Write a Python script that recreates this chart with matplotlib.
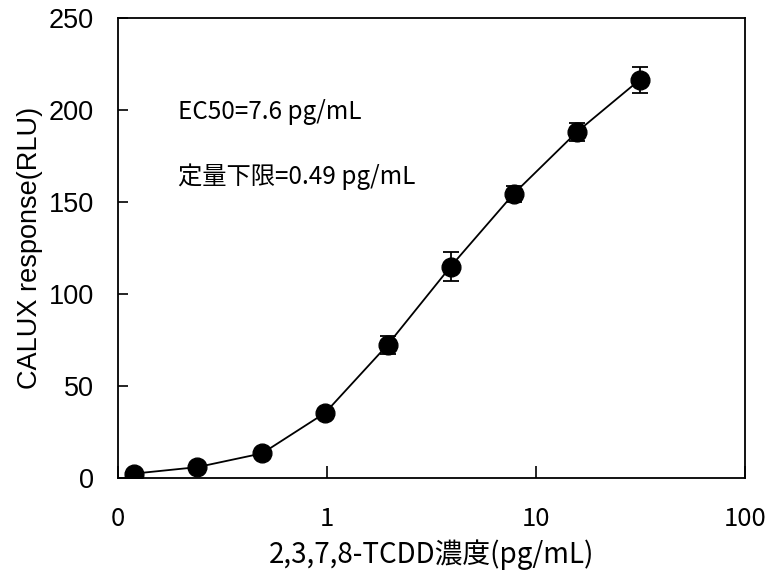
import numpy as np
import matplotlib
matplotlib.use("Agg")
import matplotlib.pyplot as plt

plt.rcParams['font.family'] = ['Noto Sans CJK JP', 'DejaVu Sans']

# 濃度 (pg/mL) と応答値
conc = [0.12, 0.24, 0.49, 0.98, 1.95, 3.9, 7.8, 15.6, 31.25]
resp = [2.5, 6.0, 13.5, 35.5, 72.5, 115.0, 154.5, 188.0, 216.5]
err = [1.0, 1.0, 1.5, 2.0, 5.0, 8.0, 4.5, 5.0, 7.0]

xticks = [0.1, 1, 10, 100]
xticklabels = ['0', '1', '10', '100']
yticks = [0, 50, 100, 150, 200, 250]

fig = plt.figure(figsize=(7.7, 5.86), dpi=100)
ax = fig.add_axes([0.153, 0.184, 0.815, 0.785])

ax.errorbar(conc, resp, yerr=err, fmt='-o', color='black', ecolor='black',
            markersize=13.5, linewidth=1.3, elinewidth=1.3, capsize=6, capthick=1.3)

ax.set_xscale('log')
ax.set_xlim(0.1, 100)
ax.set_ylim(0, 250)
ax.set_xticks(xticks)
ax.set_xticklabels(xticklabels, fontsize=18.5)
ax.minorticks_off()
ax.set_yticks(yticks)
ax.set_yticklabels([str(v) for v in yticks], fontsize=19.5, family='Liberation Sans')
ax.tick_params(axis='both', direction='in', length=7, width=1.2)
ax.tick_params(axis='x', pad=20, length=9)
ax.tick_params(axis='y', pad=17)
for sp in ax.spines.values():
    sp.set_linewidth(1.3)

ax.set_xlabel('2,3,7,8-TCDD濃度(pg/mL)', fontsize=20, labelpad=5)
ax.set_ylabel('CALUX response(RLU)', fontsize=19.5, family='Liberation Sans', labelpad=4)

ax.text(0.096, 0.796, 'EC50=7.6 pg/mL', transform=ax.transAxes, fontsize=17.5, va='center')
ax.text(0.096, 0.655, '定量下限=0.49 pg/mL', transform=ax.transAxes, fontsize=17.5, va='center')

fig.savefig('out.png', dpi=100)
